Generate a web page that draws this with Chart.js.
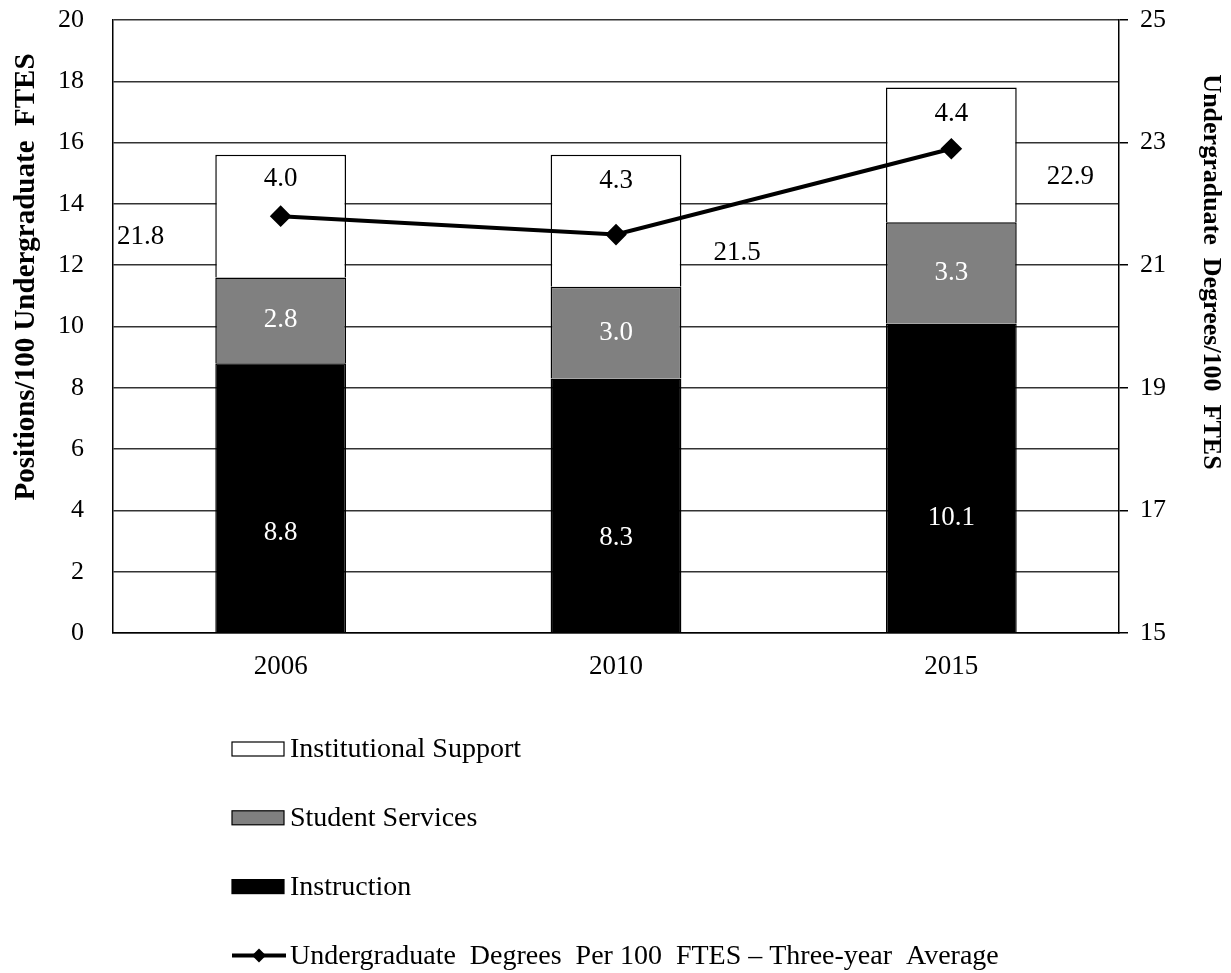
<!DOCTYPE html>
<html>
<head>
<meta charset="utf-8">
<script src="https://cdn.jsdelivr.net/npm/chart.js@4.4.1/dist/chart.umd.min.js"></script>
<style>
  html, body { margin: 0; padding: 0; background: #fff; }
  #wrap { width: 1231px; height: 973px; position: relative; }
</style>
</head>
<body>
<div id="wrap"><canvas id="chart"></canvas></div>
<script>
const years = ['2006', '2010', '2015'];
const instruction = [8.8, 8.3, 10.1];
const studentServices = [2.8, 3.0, 3.3];
const institutionalSupport = [4.0, 4.3, 4.4];
const degreesPer100 = [21.8, 21.5, 22.9];
const leftTitle = 'Positions/100 Undergraduate  FTES';
const rightTitle = 'Undergraduate  Degrees/100  FTES';

const FONT = "'Liberation Serif', 'Times New Roman', serif";

// draws the value labels inside the bars and next to the line points
const valueLabels = {
  id: 'valueLabels',
  afterDatasetsDraw(chart) {
    const ctx = chart.ctx;
    ctx.save();
    ctx.font = '27px ' + FONT;
    ctx.textAlign = 'center';
    ctx.textBaseline = 'middle';
    chart.data.datasets.forEach((ds, i) => {
      const meta = chart.getDatasetMeta(i);
      meta.data.forEach((el, j) => {
        const val = ds.data[j].toFixed(1);
        ctx.fillStyle = ds.labelColor;
        if (ds.type === 'line') {
          const off = ds.labelOffsets[j];
          ctx.fillText(val, el.x + off[0], el.y + off[1]);
        } else {
          const y = el.base + (el.y - el.base) * ds.labelFrac;
          ctx.fillText(val, el.x, y);
        }
      });
    });
    ctx.restore();
  }
};

// axis titles, placed where the original has them (not centred on the axis)
const axisTitles = {
  id: 'axisTitles',
  afterDraw(chart) {
    const ctx = chart.ctx;
    ctx.save();
    ctx.font = 'bold 29px ' + FONT;
    ctx.fillStyle = '#000';
    ctx.textAlign = 'center';
    ctx.textBaseline = 'middle';
    ctx.translate(27, 277);
    ctx.rotate(-Math.PI / 2);
    ctx.fillText(leftTitle, 0, 0);
    ctx.restore();
    ctx.save();
    ctx.font = 'bold 26px ' + FONT;
    ctx.fillStyle = '#000';
    ctx.textAlign = 'center';
    ctx.textBaseline = 'middle';
    ctx.translate(1211, 272);
    ctx.rotate(Math.PI / 2);
    ctx.fillText(rightTitle, 0, 0);
    ctx.restore();
  }
};

// vertical legend under the plot
const stackLegend = {
  id: 'stackLegend',
  afterDraw(chart) {
    const ctx = chart.ctx;
    const items = [2, 1, 0, 3];
    ctx.save();
    ctx.font = '28px ' + FONT;
    ctx.textBaseline = 'middle';
    ctx.textAlign = 'left';
    items.forEach((idx, k) => {
      const ds = chart.data.datasets[idx];
      const cy = 749 + k * 68.8;
      if (ds.type === 'line') {
        ctx.strokeStyle = '#000';
        ctx.lineWidth = 4;
        ctx.beginPath();
        ctx.moveTo(232, cy);
        ctx.lineTo(286, cy);
        ctx.stroke();
        ctx.fillStyle = '#000';
        ctx.beginPath();
        ctx.moveTo(259, cy - 7);
        ctx.lineTo(266, cy);
        ctx.lineTo(259, cy + 7);
        ctx.lineTo(252, cy);
        ctx.closePath();
        ctx.fill();
      } else {
        ctx.fillStyle = ds.backgroundColor;
        ctx.fillRect(232, cy - 7, 52, 14);
        ctx.strokeStyle = '#000';
        ctx.lineWidth = 1.2;
        ctx.strokeRect(232, cy - 7, 52, 14);
      }
      ctx.fillStyle = '#000';
      ctx.fillText(ds.label, 290, cy + 1);
    });
    ctx.restore();
  }
};

new Chart(document.getElementById('chart'), {
  data: {
    labels: years,
    datasets: [
      {
        type: 'bar', label: 'Instruction', data: instruction,
        backgroundColor: '#000000', borderColor: '#000', borderWidth: 1.5,
        labelColor: '#ffffff', labelFrac: 0.37, order: 1
      },
      {
        type: 'bar', label: 'Student Services', data: studentServices,
        backgroundColor: '#808080', borderColor: '#000', borderWidth: 1.5,
        labelColor: '#ffffff', labelFrac: 0.5, order: 1
      },
      {
        type: 'bar', label: 'Institutional Support', data: institutionalSupport,
        backgroundColor: '#ffffff', borderColor: '#000', borderWidth: 1.5,
        labelColor: '#000000', labelFrac: 0.8, order: 1
      },
      {
        type: 'line', label: 'Undergraduate  Degrees  Per 100  FTES \u2013 Three-year  Average',
        data: degreesPer100, yAxisID: 'y1',
        borderColor: '#000', backgroundColor: '#000', borderWidth: 4,
        pointStyle: 'rectRot', pointRadius: 8, pointBackgroundColor: '#000',
        tension: 0, labelColor: '#000000', order: 0,
        labelOffsets: [[-140, 21], [121, 18], [119, 28]]
      }
    ]
  },
  options: {
    responsive: true,
    maintainAspectRatio: false,
    animation: false,
    layout: { padding: { top: 20, bottom: 290, left: 0, right: 0 } },
    plugins: { legend: { display: false }, tooltip: { enabled: false } },
    datasets: { bar: { barPercentage: 0.78, categoryPercentage: 0.5 } },
    scales: {
      x: {
        stacked: true,
        grid: { display: false },
        border: { color: '#000', width: 1.5 },
        ticks: { color: '#000', font: { family: FONT, size: 27 }, padding: 10 },
        afterFit(scale) { scale.height = 50; scale.paddingLeft = 0; scale.paddingRight = 0; }
      },
      y: {
        stacked: true, min: 0, max: 20,
        ticks: { stepSize: 2, color: '#000', font: { family: FONT, size: 26 }, padding: 29 },
        grid: { color: '#333', lineWidth: 1.5, drawTicks: false },
        border: { color: '#000', width: 1.5 },
        afterFit(scale) { scale.width = 113; scale.paddingTop = 0; scale.paddingBottom = 0; }
      },
      y1: {
        position: 'right', min: 15, max: 25,
        ticks: { stepSize: 2, color: '#000', font: { family: FONT, size: 26 }, padding: 12 },
        grid: { drawOnChartArea: false, color: '#000', lineWidth: 1.5, tickLength: 9 },
        border: { color: '#000', width: 1.5 },
        afterFit(scale) { scale.width = 112; scale.paddingTop = 0; scale.paddingBottom = 0; }
      }
    }
  },
  plugins: [valueLabels, axisTitles, stackLegend]
});
</script>
</body>
</html>
